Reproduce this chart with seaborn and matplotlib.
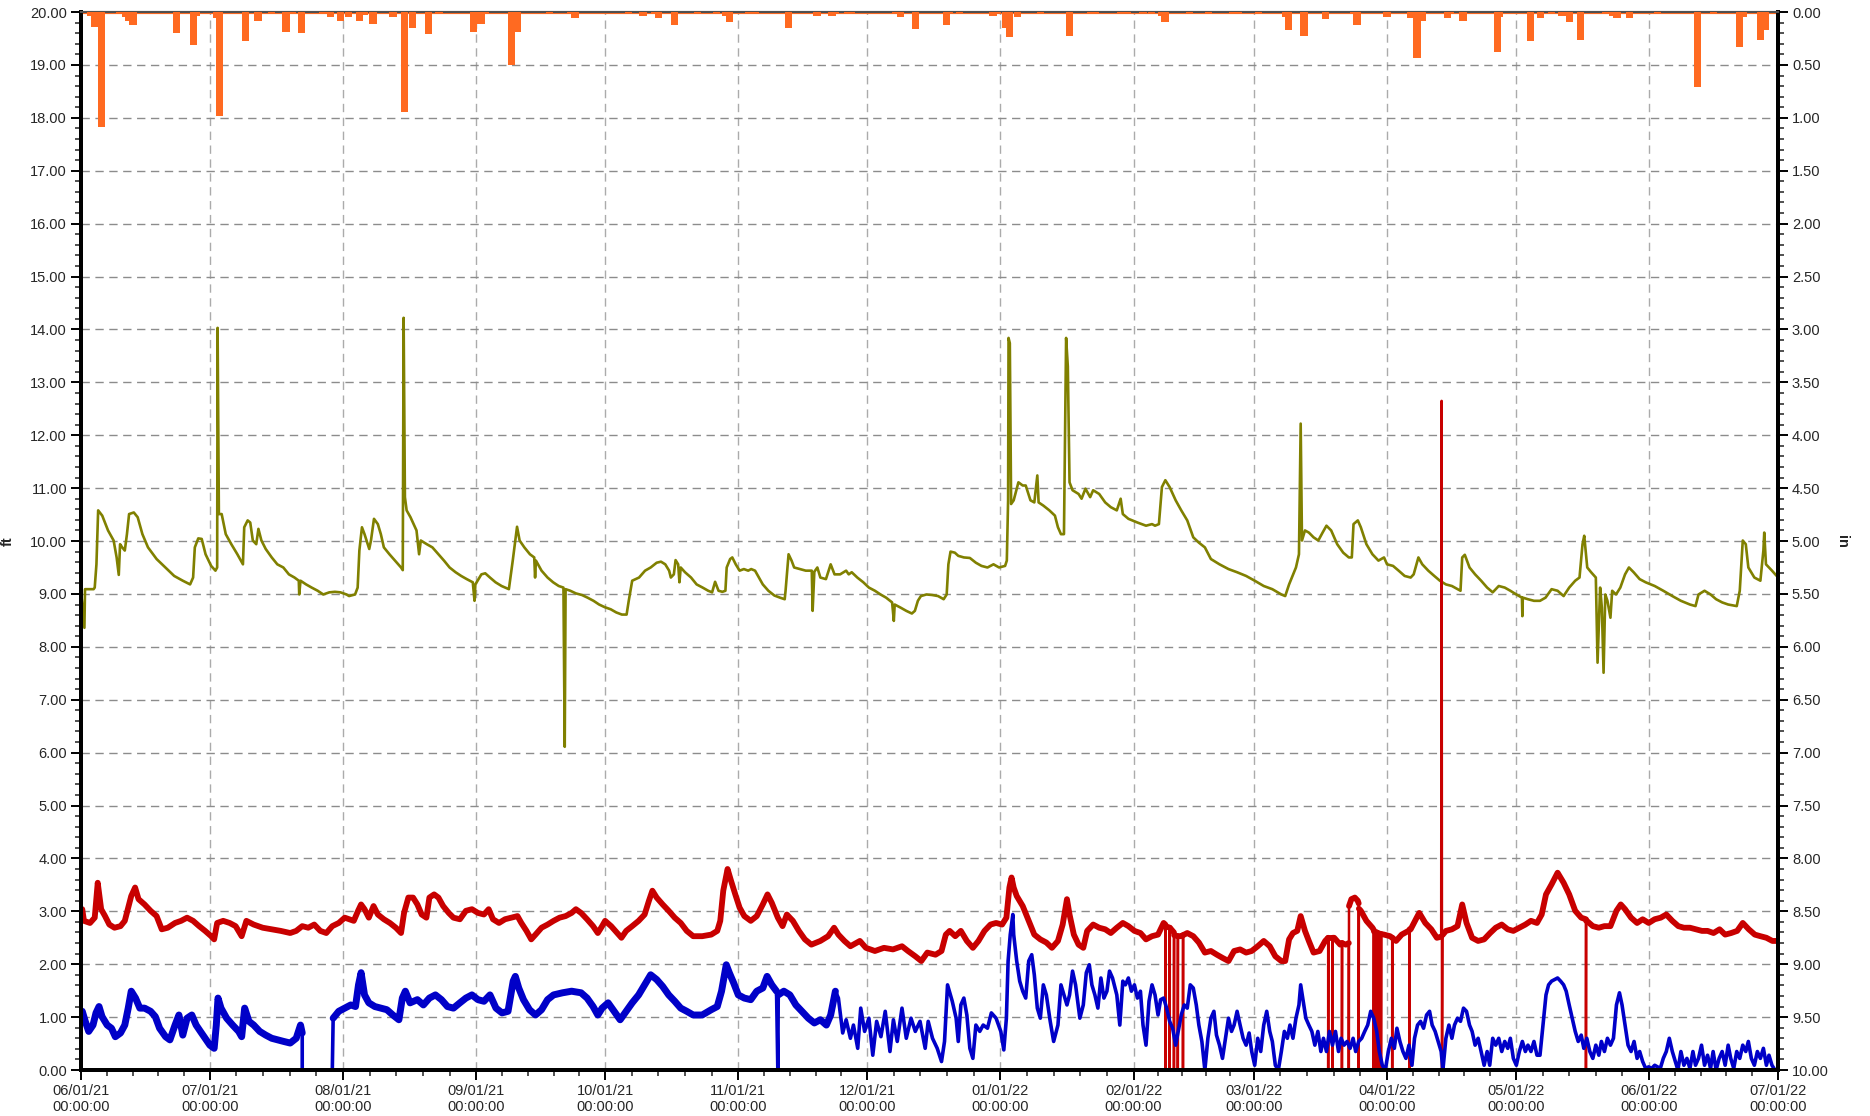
import numpy as np
import pandas as pd
import matplotlib
matplotlib.use('Agg')
import matplotlib.pyplot as plt
import matplotlib.dates as mdates
from matplotlib.ticker import MultipleLocator, FormatStrFormatter, FixedLocator
import seaborn as sns

START = '2021-06-01'
END = '2022-07-01'

# (day offset from START, value in ft)
olive_pts = [(0,9.06),(0.8,8.36),(0.94,9.09),(2.94,9.09),(3.2,9.12),(3.6,9.56),(4.0,10.58),(4.95,10.48),(6.3,10.20),(7.6,10.01),(8.3,9.69),(8.8,9.36),(9.1,9.94),(9.6,9.88),(10.2,9.82),(10.7,10.13),(11.2,10.51),(12.3,10.54),(13.2,10.45),(14.3,10.13),(15.6,9.88),(17.6,9.66),(19.65,9.50),(21.7,9.34),(23.7,9.25),(25.4,9.18),(26.1,9.31),(26.5,9.88),(27.3,10.05),(28.1,10.04),(29.0,9.75),(30.3,9.53),(31.3,9.44),(31.7,9.50),(31.8,14.03),(32.1,10.51),(32.75,10.51),(33.7,10.13),(35.0,9.94),(36.4,9.75),(37.7,9.56),(38.0,10.26),(38.8,10.39),(39.4,10.35),(40.0,10.01),(40.8,9.94),(41.3,10.23),(42.0,10.01),(43.0,9.85),(44.4,9.69),(45.7,9.56),(47.1,9.50),(48.4,9.37),(49.7,9.31),(50.7,9.25),(50.8,8.99),(51.1,9.25),(52.4,9.18),(53.7,9.12),(55.1,9.06),(56.4,8.99),(57.8,9.03),(59.1,9.04),(60.4,9.03),(61.8,8.99),(62.4,8.96),(63.8,8.99),(64.4,9.12),(64.8,9.82),(65.4,10.26),(66.0,10.13),(67.1,9.85),(67.5,10.01),(68.2,10.42),(69.1,10.32),(69.8,10.13),(70.5,9.88),(71.8,9.75),(73.1,9.63),(74.5,9.50),(74.9,9.45),(75.1,14.22),(75.4,10.83),(75.8,10.58),(76.7,10.45),(78.1,10.20),(78.7,9.75),(79.1,10.01),(80.5,9.94),(81.8,9.88),(83.2,9.75),(84.5,9.63),(85.8,9.50),(87.2,9.41),(88.5,9.34),(89.8,9.28),(91.2,9.22),(91.6,8.87),(91.8,9.18),(93.2,9.37),(94.1,9.39),(95.2,9.31),(96.5,9.22),(97.9,9.15),(99.6,9.09),(100.5,9.63),(101.5,10.27),(102.1,10.01),(103.2,9.88),(104.5,9.75),(105.5,9.69),(105.7,9.31),(105.9,9.63),(107.2,9.44),(108.6,9.31),(109.9,9.22),(111.2,9.15),(112.3,9.12),(112.6,6.11),(112.8,9.09),(113.9,9.06),(115.2,9.01),(116.6,8.98),(117.9,8.93),(119.3,8.87),(120.6,8.80),(121.9,8.75),(123.3,8.71),(124.6,8.65),(125.9,8.61),(127.0,8.61),(127.5,8.87),(128.3,9.25),(129.9,9.31),(131.3,9.44),(132.6,9.50),(134.0,9.59),(135.0,9.61),(136.0,9.56),(136.9,9.44),(137.3,9.31),(138.0,9.37),(138.4,9.64),(139.0,9.56),(139.3,9.22),(139.6,9.50),(140.6,9.41),(142.0,9.31),(143.3,9.18),(144.7,9.12),(146.0,9.06),(146.9,9.03),(147.6,9.23),(148.4,9.06),(149.3,9.04),(150.0,9.06),(150.3,9.50),(151.1,9.66),(151.6,9.69),(152.4,9.56),(153.3,9.44),(154.3,9.47),(155.3,9.44),(156.0,9.47),(156.9,9.44),(157.8,9.31),(158.7,9.18),(160.0,9.06),(161.4,8.97),(162.7,8.93),(163.8,8.90),(164.0,9.06),(164.7,9.75),(165.4,9.63),(166.0,9.50),(167.4,9.47),(168.7,9.44),(170.1,9.44),(170.3,8.68),(170.7,9.42),(171.4,9.50),(172.1,9.31),(173.4,9.28),(174.5,9.56),(175.4,9.37),(176.7,9.37),(178.1,9.44),(178.7,9.37),(179.4,9.41),(180.7,9.31),(182.1,9.22),(183.4,9.12),(184.8,9.06),(186.1,8.99),(187.4,8.93),(188.8,8.84),(189.2,8.49),(189.4,8.80),(190.8,8.74),(192.1,8.68),(193.4,8.63),(194.1,8.68),(194.8,8.87),(195.5,8.96),(196.8,8.99),(198.1,8.98),(199.5,8.96),(200.8,8.90),(201.5,8.99),(201.9,9.56),(202.4,9.80),(203.4,9.78),(204.2,9.72),(205.5,9.69),(206.9,9.68),(208.3,9.59),(209.6,9.53),(211.0,9.50),(212.4,9.56),(213.7,9.50),(215.1,9.53),(215.5,9.63),(215.8,10.77),(215.9,13.84),(216.2,13.74),(216.5,10.70),(217.1,10.77),(218.2,11.11),(219.2,11.05),(219.9,11.05),(221.0,10.77),(221.9,10.73),(222.6,11.24),(222.9,10.73),(224.0,10.67),(225.4,10.58),(226.7,10.48),(227.4,10.26),(228.1,10.13),(228.8,10.13),(229.3,13.84),(229.7,13.30),(230.1,11.11),(230.8,10.96),(232.2,10.89),(232.9,10.80),(233.8,10.99),(234.9,10.83),(235.6,10.96),(237.0,10.89),(238.4,10.73),(239.7,10.64),(241.1,10.58),(242.0,10.80),(242.5,10.51),(243.8,10.42),(245.9,10.35),(247.9,10.29),(249.3,10.32),(250.0,10.29),(250.9,10.32),(251.6,11.02),(252.4,11.15),(253.4,11.02),(254.8,10.77),(256.1,10.58),(257.5,10.39),(258.9,10.07),(260.2,9.97),(261.6,9.88),(263.0,9.66),(265.0,9.56),(267.1,9.47),(269.1,9.41),(271.2,9.34),(273.2,9.25),(275.3,9.15),(277.3,9.09),(279.4,8.99),(280.3,8.96),(281.2,9.18),(282.8,9.50),(283.5,9.75),(283.9,12.22),(284.2,10.01),(284.9,10.20),(285.8,10.16),(286.9,10.07),(288.0,10.01),(289.0,10.16),(289.9,10.29),(291.0,10.20),(292.4,9.94),(293.8,9.78),(295.1,9.69),(295.8,9.69),(296.2,10.32),(297.2,10.39),(297.9,10.26),(299.2,9.94),(300.6,9.75),(302.0,9.63),(303.3,9.69),(304.0,9.56),(305.4,9.53),(306.7,9.44),(308.1,9.34),(309.5,9.31),(310.2,9.37),(311.3,9.69),(312.2,9.56),(313.6,9.44),(315.0,9.34),(316.3,9.25),(317.7,9.18),(319.1,9.15),(320.4,9.09),(321.1,9.06),(321.5,9.69),(322.1,9.74),(323.2,9.50),(324.5,9.37),(325.9,9.25),(327.3,9.12),(328.6,9.03),(330.0,9.15),(331.4,9.12),(332.7,9.06),(334.1,8.99),(335.4,8.93),(335.5,8.58),(335.6,8.93),(336.8,8.90),(338.2,8.87),(339.6,8.87),(340.9,8.93),(342.3,9.09),(343.7,9.06),(345.1,8.96),(346.4,9.12),(347.8,9.25),(348.8,9.31),(349.5,9.94),(349.9,10.10),(350.6,9.50),(351.5,9.41),(352.6,9.31),(353.0,7.70),(353.6,9.12),(354.0,8.74),(354.4,7.51),(354.8,8.99),(355.3,8.87),(356.0,8.55),(356.4,9.06),(357.3,8.99),(358.3,9.12),(359.4,9.37),(360.3,9.50),(361.4,9.41),(362.8,9.28),(364.2,9.22),(366.3,9.15),(368.3,9.06),(370.4,8.96),(372.4,8.87),(374.5,8.80),(375.8,8.77),(376.5,8.99),(377.9,9.06),(379.3,8.99),(380.6,8.90),(382.0,8.84),(383.4,8.80),(385.4,8.77),(386.1,9.06),(386.8,10.01),(387.5,9.94),(388.1,9.50),(389.5,9.31),(390.9,9.25),(391.6,9.82),(391.8,10.16),(392.2,9.56),(393.6,9.44),(394.7,9.34)]

red_pts = [(0.3,3.04),(0.7,2.82),(2.1,2.78),(3.2,2.88),(3.9,3.54),(4.7,3.04),(5.6,2.91),(6.6,2.75),(7.8,2.69),(9.2,2.72),(10.2,2.82),(10.9,3.04),(11.7,3.29),(12.6,3.45),(13.4,3.23),(14.8,3.13),(16.2,3.01),(17.6,2.91),(18.8,2.66),(20.2,2.69),(21.9,2.78),(23.3,2.82),(24.7,2.88),(26.1,2.82),(27.5,2.72),(28.9,2.63),(30.3,2.53),(31.0,2.47),(31.7,2.78),(33.1,2.82),(34.6,2.78),(36.0,2.72),(37.4,2.53),(38.5,2.82),(40.2,2.75),(42.3,2.69),(44.4,2.66),(46.5,2.63),(48.7,2.59),(50.1,2.63),(51.5,2.72),(52.9,2.69),(54.3,2.75),(55.7,2.63),(57.1,2.59),(58.5,2.72),(60.0,2.78),(61.4,2.88),(63.5,2.82),(64.5,3.01),(65.2,3.13),(66.0,3.04),(67.0,2.88),(68.1,3.10),(69.1,2.94),(70.5,2.85),(71.9,2.78),(73.3,2.69),(74.5,2.59),(75.2,2.97),(76.2,3.26),(77.3,3.26),(78.3,3.13),(79.3,2.94),(80.4,2.88),(81.1,3.26),(82.2,3.32),(83.2,3.26),(84.3,3.10),(85.6,2.97),(86.7,2.88),(88.2,2.85),(89.6,3.01),(91.0,3.04),(92.4,2.97),(93.8,2.94),(94.9,3.04),(95.9,2.85),(97.3,2.78),(98.7,2.85),(100.1,2.88),(101.6,2.91),(102.5,2.78),(103.7,2.63),(104.8,2.47),(105.8,2.56),(107.2,2.69),(108.6,2.75),(110.0,2.82),(111.4,2.88),(112.8,2.91),(114.2,2.97),(115.2,3.04),(116.4,2.97),(117.8,2.85),(119.2,2.72),(120.3,2.59),(121.3,2.72),(122.0,2.82),(123.4,2.72),(124.8,2.59),(125.8,2.50),(126.9,2.63),(128.3,2.72),(129.8,2.82),(131.2,2.94),(132.2,3.20),(133.0,3.39),(134.0,3.26),(135.4,3.13),(136.8,3.01),(138.2,2.88),(139.6,2.78),(141.0,2.63),(142.5,2.53),(144.6,2.53),(146.7,2.56),(148.1,2.63),(148.8,2.82),(149.5,3.39),(150.5,3.80),(151.3,3.58),(152.3,3.32),(153.3,3.07),(154.4,2.91),(155.9,2.82),(157.3,2.91),(158.7,3.13),(159.8,3.32),(160.8,3.16),(162.2,2.88),(163.3,2.72),(164.3,2.94),(165.7,2.82),(167.1,2.63),(168.5,2.47),(170.0,2.37),(172.1,2.44),(173.9,2.53),(175.3,2.69),(176.3,2.56),(177.7,2.44),(179.1,2.34),(181.3,2.44),(182.7,2.31),(184.8,2.25),(186.9,2.31),(189.0,2.28),(191.1,2.34),(192.5,2.25),(194.2,2.15),(195.6,2.06),(197.0,2.22),(198.9,2.18),(200.3,2.25),(201.3,2.56),(202.2,2.63),(203.5,2.53),(204.8,2.63),(206.2,2.44),(207.6,2.31),(208.9,2.44),(210.3,2.63),(211.7,2.75),(213.0,2.78),(214.4,2.75),(215.4,2.88),(216.1,3.45),(216.6,3.64),(217.1,3.45),(217.8,3.29),(219.2,3.10),(220.6,2.82),(221.9,2.56),(223.3,2.47),(224.7,2.41),(226.0,2.31),(227.4,2.44),(228.5,2.75),(229.5,3.23),(230.1,2.94),(231.1,2.56),(232.2,2.37),(233.3,2.31),(234.2,2.63),(235.6,2.75),(237.0,2.69),(238.4,2.66),(239.7,2.59),(241.1,2.69),(242.5,2.78),(243.8,2.72),(245.2,2.63),(246.6,2.59),(247.9,2.47),(249.3,2.53),(250.7,2.56),(252.0,2.78),(252.4,2.75),(252.4,0.0),(252.45,2.72),(253.4,2.69),(253.4,0.0),(253.45,2.69),(254.4,2.60),(254.4,0.0),(254.45,2.55),(255.3,2.53),(255.3,0.0),(255.35,2.53),(256.1,2.53),(256.5,2.55),(256.5,0.0),(256.55,2.55),(257.5,2.59),(258.9,2.53),(260.2,2.41),(261.6,2.22),(263.0,2.25),(264.4,2.18),(265.7,2.12),(267.1,2.06),(268.4,2.25),(269.8,2.28),(271.2,2.22),(272.5,2.25),(273.9,2.34),(275.3,2.44),(276.7,2.34),(278.0,2.15),(279.4,2.06),(280.3,2.06),(281.2,2.47),(282.1,2.59),(283.1,2.63),(283.9,2.91),(284.9,2.63),(285.8,2.44),(286.9,2.22),(288.3,2.25),(289.6,2.44),(290.3,2.50),(290.3,0.0),(290.35,2.50),(291.3,2.50),(291.3,0.0),(291.35,2.50),(291.7,2.50),(293.1,2.37),(293.5,2.40),(293.5,0.0),(293.55,2.40),(294.4,2.37),(295.1,2.40),(295.1,0.0),(295.15,3.10),(295.7,3.23),(296.5,3.26),(297.2,3.20),(297.4,3.15),(297.4,0.0),(297.45,3.05),(297.9,3.01),(299.2,2.82),(300.6,2.69),(300.9,2.65),(300.9,0.0),(300.95,2.62),(301.6,2.60),(301.6,0.0),(301.65,2.60),(302.1,2.58),(302.1,0.0),(302.15,2.58),(302.6,2.57),(302.6,0.0),(302.65,2.57),(303.3,2.56),(304.7,2.53),(305.2,2.50),(305.2,0.0),(305.25,2.50),(306.1,2.44),(307.4,2.56),(309.2,2.64),(309.2,0.0),(309.25,2.66),(309.5,2.66),(310.9,2.88),(311.5,2.97),(312.9,2.78),(314.3,2.66),(315.6,2.50),(316.6,2.52),(316.7,12.65),(316.8,0.0),(316.9,2.55),(317.7,2.63),(319.1,2.66),(320.4,2.72),(321.5,3.13),(322.5,2.78),(323.8,2.50),(325.2,2.44),(326.6,2.47),(328.0,2.59),(329.3,2.69),(330.7,2.75),(332.1,2.66),(333.4,2.63),(334.8,2.69),(336.2,2.75),(337.5,2.82),(338.9,2.78),(340.0,2.94),(341.0,3.32),(342.3,3.51),(343.7,3.73),(345.1,3.54),(346.4,3.32),(347.8,3.01),(349.2,2.88),(350.3,2.85),(350.3,0.0),(350.35,2.82),(350.5,2.82),(351.9,2.72),(353.3,2.69),(354.6,2.72),(356.0,2.72),(357.4,3.01),(358.4,3.13),(359.4,3.04),(360.8,2.88),(362.2,2.78),(363.5,2.85),(364.9,2.78),(366.3,2.85),(367.7,2.88),(369.0,2.94),(370.4,2.82),(371.8,2.72),(373.1,2.69),(374.5,2.69),(375.9,2.66),(377.3,2.63),(378.6,2.63),(380.0,2.59),(381.4,2.66),(382.7,2.56),(384.1,2.59),(385.5,2.63),(386.8,2.78),(388.2,2.66),(389.6,2.56),(390.9,2.53),(392.3,2.50),(393.7,2.44),(394.8,2.44)]

blue_pts = [(0.3,1.11),(1.0,0.92),(1.8,0.73),(2.8,0.85),(3.5,1.08),(4.2,1.20),(4.9,1.01),(6.1,0.85),(7.1,0.79),(8.0,0.63),(9.2,0.70),(10.2,0.85),(11.0,1.17),(11.7,1.49),(12.7,1.36),(13.7,1.17),(14.8,1.17),(16.2,1.11),(17.3,1.01),(18.3,0.79),(19.7,0.63),(20.7,0.57),(21.9,0.85),(22.8,1.04),(23.7,0.66),(24.7,0.98),(25.8,1.04),(26.8,0.85),(27.8,0.73),(28.9,0.60),(30.0,0.47),(31.0,0.41),(31.5,0.85),(31.9,1.36),(32.6,1.17),(33.9,0.98),(35.3,0.85),(36.7,0.73),(37.4,0.63),(38.1,1.17),(39.1,0.92),(40.2,0.85),(41.6,0.73),(43.0,0.66),(44.4,0.60),(45.8,0.57),(47.2,0.54),(48.7,0.51),(50.1,0.60),(51.1,0.85),(51.5,0.70),(51.5,0.0),(58.5,0.0),(58.7,0.98),(60.0,1.11),(61.4,1.17),(62.8,1.23),(63.9,1.20),(64.6,1.61),(65.2,1.84),(66.0,1.42),(67.0,1.27),(68.4,1.20),(69.8,1.17),(71.2,1.14),(72.6,1.04),(74.0,0.95),(74.8,1.36),(75.5,1.49),(76.6,1.27),(78.3,1.33),(79.7,1.23),(81.1,1.36),(82.5,1.42),(83.9,1.33),(85.3,1.20),(86.7,1.17),(88.2,1.27),(89.6,1.36),(91.0,1.42),(92.4,1.33),(93.8,1.30),(95.2,1.42),(96.6,1.17),(98.0,1.08),(99.4,1.11),(100.6,1.68),(101.1,1.77),(101.9,1.55),(103.0,1.33),(104.4,1.14),(105.8,1.04),(107.2,1.14),(108.6,1.33),(110.0,1.42),(112.1,1.46),(114.2,1.49),(116.4,1.46),(117.8,1.36),(119.2,1.20),(120.3,1.04),(121.3,1.17),(122.7,1.27),(124.1,1.11),(125.5,0.95),(126.9,1.11),(128.3,1.27),(129.8,1.42),(131.2,1.61),(132.6,1.80),(134.0,1.71),(135.4,1.58),(136.8,1.42),(138.2,1.30),(139.6,1.17),(141.0,1.11),(142.5,1.04),(144.6,1.04),(146.7,1.14),(148.1,1.20),(149.1,1.49),(150.2,1.99),(150.9,1.84),(151.9,1.65),(153.0,1.42),(154.4,1.36),(155.9,1.33),(157.3,1.49),(158.7,1.55),(159.7,1.77),(160.8,1.61),(161.9,1.49),(162.2,0.0),(162.3,1.42),(163.6,1.49),(165.0,1.42),(166.4,1.23),(167.8,1.11),(169.3,0.98),(170.7,0.89),(172.1,0.95),(173.5,0.85),(174.5,1.04),(175.6,1.49),(176.3,1.36),(177.3,0.70),(178.1,0.95),(179.1,0.60),(179.8,0.85),(180.8,0.41),(181.5,1.17),(182.4,0.73),(183.4,0.98),(184.3,0.28),(185.2,0.92),(186.2,0.63),(187.2,1.11),(188.3,0.35),(189.1,0.95),(190.0,0.54),(191.1,1.17),(192.1,0.60),(193.2,0.98),(194.2,0.73),(195.3,0.92),(196.5,0.41),(197.2,0.92),(198.2,0.60),(199.3,0.41),(200.3,0.16),(201.0,0.54),(201.7,1.61),(202.8,1.30),(203.7,0.98),(204.2,0.54),(204.8,1.23),(205.5,1.36),(206.2,1.04),(206.9,0.41),(207.6,0.22),(208.3,0.85),(209.2,0.73),(210.0,0.85),(211.0,0.79),(211.9,1.08),(213.0,0.98),(214.1,0.73),(214.8,0.38),(215.4,0.98),(215.8,2.06),(216.3,2.56),(216.9,2.94),(217.1,2.56),(217.8,2.06),(218.5,1.68),(219.2,1.49),(219.9,1.36),(220.6,2.06),(221.3,2.18),(221.9,1.80),(222.6,1.17),(223.3,0.98),(224.0,1.61),(224.7,1.42),(225.6,0.92),(226.4,0.54),(227.4,0.85),(228.1,1.61),(228.8,1.42),(229.5,1.23),(230.1,1.42),(230.8,1.87),(231.5,1.61),(232.5,0.98),(233.3,1.23),(234.0,1.84),(234.7,1.99),(235.3,1.61),(236.0,1.42),(236.7,1.17),(237.4,1.74),(238.1,1.36),(238.8,1.49),(239.4,1.87),(240.1,1.74),(241.1,1.42),(241.8,0.85),(242.5,1.68),(243.1,1.61),(243.8,1.74),(244.5,1.49),(245.2,1.61),(245.9,1.36),(246.6,1.49),(247.2,0.85),(247.9,0.47),(248.6,1.30),(249.3,1.61),(250.0,1.42),(250.7,1.04),(251.3,1.33),(252.0,1.36),(252.7,1.17),(253.4,0.92),(254.1,0.79),(254.8,0.47),(255.4,0.73),(256.1,1.04),(256.8,1.23),(257.5,1.17),(258.2,1.61),(258.9,1.55),(259.6,1.23),(260.2,0.85),(260.9,0.54),(261.6,0.0),(262.3,0.60),(263.0,0.98),(263.7,1.11),(264.3,0.66),(265.0,0.47),(265.7,0.22),(266.4,0.60),(267.1,0.98),(267.8,0.73),(268.4,0.85),(269.1,1.11),(269.8,0.85),(270.5,0.60),(271.2,0.47),(271.9,0.70),(272.5,0.35),(273.2,0.09),(273.9,0.60),(274.6,0.35),(275.3,0.85),(276.0,1.11),(276.7,0.73),(277.3,0.54),(278.0,0.09),(278.7,0.0),(279.4,0.35),(280.1,0.73),(280.8,0.60),(281.4,0.85),(282.1,0.60),(282.8,0.98),(283.5,1.23),(283.9,1.61),(284.5,1.30),(285.1,0.98),(285.8,0.85),(286.5,0.73),(287.2,0.47),(287.9,0.73),(288.6,0.35),(289.2,0.60),(289.9,0.35),(290.6,0.73),(291.3,0.47),(292.0,0.73),(292.7,0.35),(293.3,0.60),(294.0,0.47),(294.7,0.54),(295.4,0.41),(296.1,0.60),(296.7,0.35),(297.4,0.54),(298.1,0.60),(298.8,0.73),(299.5,0.85),(300.2,1.11),(300.9,0.98),(301.6,0.73),(302.2,0.35),(302.9,0.09),(303.6,0.0),(304.3,0.35),(305.0,0.60),(305.7,0.41),(306.3,0.79),(307.0,0.54),(307.7,0.35),(308.4,0.22),(309.1,0.47),(309.8,0.09),(310.4,0.60),(311.1,0.85),(311.8,0.92),(312.5,0.79),(313.2,1.04),(313.9,1.11),(314.5,0.85),(315.2,0.73),(315.9,0.54),(316.6,0.35),(317.0,0.0),(317.7,0.60),(318.4,0.85),(319.1,0.60),(319.7,0.85),(320.4,0.98),(321.1,0.92),(321.8,1.17),(322.5,1.11),(323.2,0.85),(323.8,0.73),(324.5,0.47),(325.2,0.60),(325.9,0.35),(326.6,0.09),(327.3,0.35),(327.9,0.09),(328.6,0.60),(329.3,0.47),(330.0,0.60),(330.7,0.35),(331.4,0.54),(332.1,0.41),(332.7,0.60),(333.4,0.22),(334.1,0.09),(334.8,0.35),(335.5,0.54),(336.2,0.35),(336.8,0.47),(337.5,0.35),(338.2,0.54),(338.9,0.28),(339.6,0.28),(340.3,0.85),(341.0,1.42),(341.6,1.61),(342.3,1.68),(343.0,1.71),(343.7,1.74),(344.4,1.68),(345.1,1.61),(345.7,1.49),(346.4,1.23),(347.1,0.98),(347.8,0.73),(348.5,0.54),(349.2,0.66),(349.8,0.41),(350.5,0.60),(351.2,0.35),(351.9,0.22),(352.6,0.47),(353.3,0.28),(353.9,0.54),(354.6,0.35),(355.3,0.60),(356.0,0.47),(356.7,0.60),(357.4,1.23),(358.1,1.46),(358.7,1.23),(359.4,0.85),(360.1,0.47),(360.8,0.35),(361.5,0.54),(362.2,0.22),(362.8,0.35),(363.5,0.16),(364.2,0.03),(364.9,0.06),(365.6,0.03),(366.3,0.09),(367.6,0.03),(368.3,0.22),(369.0,0.35),(369.7,0.60),(370.4,0.35),(371.1,0.16),(371.7,0.0),(372.4,0.35),(373.1,0.09),(373.8,0.22),(374.5,0.03),(375.2,0.35),(375.8,0.09),(376.5,0.22),(377.2,0.47),(377.9,0.09),(378.6,0.28),(379.3,0.03),(379.9,0.35),(380.6,0.0),(381.3,0.22),(382.0,0.35),(382.7,0.09),(383.4,0.47),(384.0,0.22),(384.7,0.03),(385.4,0.35),(386.1,0.22),(386.8,0.47),(387.5,0.35),(388.1,0.54),(388.8,0.22),(389.5,0.09),(390.2,0.35),(390.9,0.22),(391.6,0.41),(392.3,0.09),(392.9,0.28),(393.6,0.09),(394.3,0.0)]

# (day offset, precipitation in inches)
rain_pts = [(2.3,0.04),(3.1,0.145),(4.7,1.09),(9.0,0.02),(10.4,0.05),(11.1,0.08),(12.1,0.12),(22.3,0.20),(26.2,0.31),(26.9,0.04),(31.6,0.055),(32.3,0.98),(38.3,0.27),(41.2,0.08),(44.4,0.02),(47.7,0.19),(49.2,0.015),(51.4,0.20),(56.3,0.02),(58.0,0.05),(60.4,0.08),(62.3,0.05),(64.9,0.08),(65.9,0.025),(68.0,0.11),(72.6,0.05),(75.3,0.94),(77.1,0.15),(80.9,0.21),(83.3,0.02),(91.4,0.19),(93.1,0.11),(94.2,0.02),(100.2,0.50),(101.5,0.19),(109.0,0.01),(113.9,0.01),(115.0,0.06),(127.4,0.01),(130.8,0.04),(133.6,0.02),(134.4,0.06),(138.1,0.12),(143.5,0.01),(147.9,0.01),(150.0,0.04),(151.0,0.09),(155.5,0.01),(157.0,0.01),(164.7,0.15),(171.3,0.04),(174.8,0.04),(175.6,0.02),(178.5,0.02),(179.3,0.01),(189.7,0.01),(190.7,0.05),(194.3,0.16),(201.4,0.12),(202.2,0.01),(204.5,0.01),(212.3,0.04),(213.4,0.01),(215.2,0.15),(216.2,0.24),(218.0,0.05),(223.3,0.02),(230.1,0.23),(234.9,0.02),(236.0,0.02),(242.0,0.01),(243.5,0.01),(247.2,0.01),(249.1,0.02),(251.6,0.04),(252.3,0.09),(258.1,0.01),(262.5,0.02),(268.0,0.02),(269.5,0.02),(274.1,0.02),(280.3,0.05),(281.0,0.17),(284.7,0.23),(289.6,0.065),(296.3,0.02),(297.0,0.12),(304.0,0.05),(309.5,0.06),(311.0,0.43),(312.2,0.08),(318.0,0.06),(318.7,0.02),(321.7,0.08),(329.7,0.38),(330.2,0.05),(337.4,0.27),(339.8,0.06),(342.2,0.02),(344.7,0.04),(346.4,0.09),(349.0,0.26),(354.8,0.02),(356.5,0.04),(357.5,0.06),(360.5,0.06),(367.0,0.01),(376.2,0.71),(380.0,0.02),(386.0,0.33),(387.0,0.05),(391.0,0.26),(392.0,0.17)]

OLIVE = '#808000'
RED = '#C80000'
BLUE = '#0000C8'
ORANGE = '#FF6A21'

sns.set_style('white')
plt.rcParams['font.family'] = ['Liberation Sans', 'DejaVu Sans']
plt.rcParams['font.size'] = 10


def to_df(pts):
    d = pd.DataFrame(pts, columns=['day', 'val'])
    d['t'] = pd.Timestamp(START) + pd.to_timedelta(d['day'], unit='D')
    return d


def band_segments(df, mask):
    # consecutive runs of points that form the noisy band (gaps/spikes excluded)
    seg = (~mask).cumsum()
    sub = df[mask].copy()
    sub['seg'] = seg[mask].values
    return sub


olive = to_df(olive_pts)
red = to_df(red_pts)
blue = to_df(blue_pts)
rain = to_df(rain_pts)

red_band = band_segments(red, (red['val'] > 1.0) & (red['val'] < 5.0))
blue_band = band_segments(blue, (blue['day'] <= 175.6) & (blue['val'] > 0.05))

fig = plt.figure(figsize=(18.7, 11.16), dpi=100)
ax = fig.add_axes([0.0433, 0.0412, 0.9075, 0.948])
ax2 = ax.twinx()

sns.lineplot(data=olive, x='t', y='val', ax=ax, color=OLIVE, lw=1.9,
             estimator=None, sort=False, legend=False)
# red: thin full trace (shows dropouts/spike) + thick noisy band
sns.lineplot(data=red, x='t', y='val', ax=ax, color=RED, lw=1.8,
             estimator=None, sort=False, legend=False)
sns.lineplot(data=red_band, x='t', y='val', units='seg', ax=ax, color=RED, lw=4.2,
             estimator=None, sort=False, legend=False)
# blue
sns.lineplot(data=blue, x='t', y='val', ax=ax, color=BLUE, lw=2.6,
             estimator=None, sort=False, legend=False)
sns.lineplot(data=blue_band, x='t', y='val', units='seg', ax=ax, color=BLUE, lw=5.0,
             estimator=None, sort=False, legend=False)

ax2.bar(rain['t'], rain['val'], width=1.7, color=ORANGE, align='center',
        linewidth=0, zorder=3)
ax2.axhline(0, color=ORANGE, lw=3, zorder=2)

x0, x1 = pd.Timestamp(START), pd.Timestamp(END)
ax.set_xlim(x0, x1)
ax.set_ylim(0, 20)
ax2.set_ylim(10, 0)

# x ticks
months = pd.date_range(START, END, freq='MS')
ax.xaxis.set_major_locator(FixedLocator(mdates.date2num(months)))
ax.xaxis.set_major_formatter(mdates.DateFormatter('%m/%d/%y\n%H:%M:%S'))
minor = []
for m, n in zip(months[:-1], months[1:]):
    for k in range(1, 5):
        minor.append(m + (n - m) * k / 5)
ax.xaxis.set_minor_locator(FixedLocator(mdates.date2num(pd.DatetimeIndex(minor))))

ax.yaxis.set_major_locator(MultipleLocator(1))
ax.yaxis.set_minor_locator(MultipleLocator(0.2))
ax.yaxis.set_major_formatter(FormatStrFormatter('%.2f'))
ax2.yaxis.set_major_locator(MultipleLocator(0.5))
ax2.yaxis.set_minor_locator(MultipleLocator(0.1))
ax2.yaxis.set_major_formatter(FormatStrFormatter('%.2f'))

ax.grid(which='major', axis='y', linestyle=(0, (6, 4)), color='#8c8c8c', lw=1)
ax.grid(which='major', axis='x', linestyle=(0, (6, 4)), color='#ababab', lw=1)
ax.set_axisbelow(True)
ax2.grid(False)

for a in (ax, ax2):
    for s in ('left', 'right', 'bottom'):
        a.spines[s].set_color('black')
        a.spines[s].set_linewidth(2.8)
    a.spines['top'].set_color('#505050')
    a.spines['top'].set_linewidth(1.5)

ax.tick_params(axis='both', which='major', direction='out', length=7, width=1.4,
               labelsize=10.5, color='black', pad=3)
ax.tick_params(axis='both', which='minor', direction='out', length=4, width=1.2,
               color='#333333')
ax.tick_params(axis='y', left=True, right=False, which='both')
ax.tick_params(axis='x', bottom=True, which='both')
ax2.tick_params(axis='y', which='major', direction='out', length=7, width=1.4,
                labelsize=10.5, color='black', pad=3, right=True, left=False)
ax2.tick_params(axis='y', which='minor', direction='out', length=4, width=1.2,
                color='#333333', right=True, left=False)

ax.set_xlabel('')
ax.set_ylabel('ft', fontweight='bold', fontsize=10.5)
ax.yaxis.set_label_coords(-0.039, 0.5)
ax2.set_ylabel('in', fontweight='bold', fontsize=10.5, rotation=270, va='center')
ax2.yaxis.set_label_coords(1.038, 0.5)

for lbl in ax.get_xticklabels():
    lbl.set_ha('center')

fig.savefig('out.png', dpi=100, facecolor='white')
